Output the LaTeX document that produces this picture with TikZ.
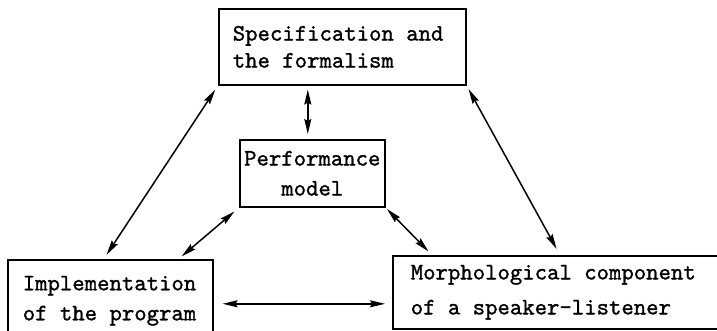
\documentclass[tikz,border=0pt]{standalone}
\usepackage{fontspec}
\usepackage{tikz}
\usetikzlibrary{arrows.meta}
\newfontfamily\boxfont{lmmono10-regular}[Extension=.otf, FakeBold=1.2]
\newcommand\boxtext{\boxfont\fontsize{23.6pt}{28pt}\selectfont}
\newcommand\sk{\hspace{0.525em}}

\begin{document}
\begin{tikzpicture}[x=1pt, y=1pt,
    box/.style={draw, line width=1.6pt, rectangle, anchor=north west, inner ysep=0pt, font=\boxtext},
    link/.style={{Stealth[length=15pt,width=7pt,inset=2pt]}-{Stealth[length=15pt,width=7pt,inset=2pt]}, line width=1.5pt}]
    \useasboundingbox (0,0) rectangle (717,-331);
    \clip (0,0) rectangle (717,-331);
    \node [box, align=left, text width=219pt, inner xsep=14pt, minimum height=76pt] (spec) at (218,-8) {Specification\sk and\\[-1pt]the\sk formalism};
    \node [box, align=center, text width=139pt, inner xsep=3pt, minimum height=67pt] (perf) at (239,-139) {Performance\\[2pt]model};
    \node [box, align=left, text width=175pt, inner xsep=15pt, minimum height=82pt] (impl) at (7,-259) {Implementation\\[2pt]of\sk the\sk program};
    \node [box, align=left, text width=300pt, inner xsep=18pt, minimum height=73pt] (morph) at (392,-255) {Morphological\sk component\\[7pt]of\sk a\sk speaker-listener};
    \draw [link, shorten <=4pt, shorten >=5pt] ([xshift=-34.5pt]spec.south) -- ([xshift=-4.5pt]perf.north);
    \draw [link, shorten <=5pt, shorten >=5pt] (spec.south west) -- ([xshift=-6.5pt]impl.north);
    \draw [link, shorten <=4pt, shorten >=7pt] (spec.south east) -- ([xshift=168pt]morph.north west);
    \draw [link, shorten <=6pt, shorten >=4pt] (perf.south west) -- ([xshift=-35pt]impl.north east);
    \draw [link, shorten <=2pt, shorten >=5pt] (perf.south east) -- ([xshift=40pt]morph.north west);
    \draw [link, shorten <=9pt, shorten >=7pt] ([yshift=-3pt]impl.east) -- ([yshift=-3pt]impl.east -| morph.west);
\end{tikzpicture}
\end{document}
